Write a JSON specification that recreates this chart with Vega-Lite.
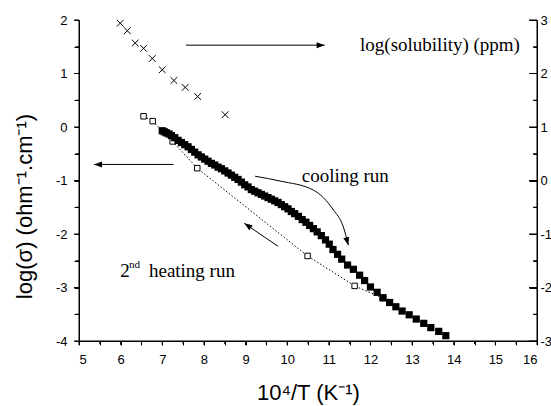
{
  "$schema": "https://vega.github.io/schema/vega-lite/v6.json",
  "width": 458,
  "height": 321,
  "autosize": {"type": "none"},
  "padding": {"left": 79, "top": 20, "right": 14, "bottom": 65},
  "background": "white",
  "config": {
    "view": {"stroke": null},
    "axis": {
      "grid": false,
      "domainColor": "black",
      "tickColor": "black",
      "labelColor": "black",
      "titleColor": "black",
      "labelFont": "Liberation Sans",
      "titleFont": "Liberation Sans",
      "labelFontSize": 13,
      "titleFontSize": 22,
      "titleFontWeight": "normal",
      "domainWidth": 1,
      "tickWidth": 1
    }
  },
  "datasets": {
    "cool": [
      {"x": 7.00, "y": -0.07}, {"x": 7.05, "y": -0.09}, {"x": 7.10, "y": -0.11}, {"x": 7.16, "y": -0.13},
      {"x": 7.22, "y": -0.16}, {"x": 7.30, "y": -0.20}, {"x": 7.38, "y": -0.25}, {"x": 7.46, "y": -0.29},
      {"x": 7.54, "y": -0.33}, {"x": 7.62, "y": -0.37}, {"x": 7.70, "y": -0.42}, {"x": 7.78, "y": -0.47},
      {"x": 7.86, "y": -0.52}, {"x": 7.94, "y": -0.56}, {"x": 8.02, "y": -0.60}, {"x": 8.10, "y": -0.64},
      {"x": 8.18, "y": -0.68}, {"x": 8.26, "y": -0.71}, {"x": 8.34, "y": -0.75}, {"x": 8.42, "y": -0.78},
      {"x": 8.50, "y": -0.82}, {"x": 8.58, "y": -0.86}, {"x": 8.66, "y": -0.90}, {"x": 8.74, "y": -0.94},
      {"x": 8.82, "y": -0.98}, {"x": 8.90, "y": -1.03}, {"x": 8.98, "y": -1.08}, {"x": 9.06, "y": -1.12},
      {"x": 9.14, "y": -1.17}, {"x": 9.22, "y": -1.20}, {"x": 9.30, "y": -1.23}, {"x": 9.38, "y": -1.26},
      {"x": 9.46, "y": -1.29}, {"x": 9.54, "y": -1.32}, {"x": 9.62, "y": -1.35}, {"x": 9.70, "y": -1.38},
      {"x": 9.78, "y": -1.41}, {"x": 9.86, "y": -1.45}, {"x": 9.94, "y": -1.49}, {"x": 10.02, "y": -1.53},
      {"x": 10.10, "y": -1.58}, {"x": 10.18, "y": -1.62}, {"x": 10.27, "y": -1.67}, {"x": 10.36, "y": -1.73},
      {"x": 10.45, "y": -1.78}, {"x": 10.54, "y": -1.84}, {"x": 10.63, "y": -1.90}, {"x": 10.72, "y": -1.96},
      {"x": 10.82, "y": -2.03}, {"x": 10.92, "y": -2.11}, {"x": 11.01, "y": -2.19}, {"x": 11.10, "y": -2.29},
      {"x": 11.21, "y": -2.38}, {"x": 11.31, "y": -2.47}, {"x": 11.45, "y": -2.58}, {"x": 11.59, "y": -2.66},
      {"x": 11.74, "y": -2.77}, {"x": 11.86, "y": -2.87}, {"x": 12.00, "y": -2.99}, {"x": 12.16, "y": -3.09},
      {"x": 12.30, "y": -3.19}, {"x": 12.46, "y": -3.28}, {"x": 12.61, "y": -3.36}, {"x": 12.76, "y": -3.44},
      {"x": 12.93, "y": -3.51}, {"x": 13.10, "y": -3.59}, {"x": 13.28, "y": -3.67}, {"x": 13.45, "y": -3.75},
      {"x": 13.64, "y": -3.82}, {"x": 13.81, "y": -3.90}
    ],
    "heat": [
      {"x": 6.55, "y": 0.20}, {"x": 6.77, "y": 0.11}, {"x": 7.25, "y": -0.27}, {"x": 7.84, "y": -0.77},
      {"x": 10.49, "y": -2.41}, {"x": 11.62, "y": -2.97}, {"x": 12.30, "y": -3.20}
    ],
    "sol": [
      {"x": 5.99, "y": 2.94}, {"x": 6.16, "y": 2.80}, {"x": 6.35, "y": 2.57}, {"x": 6.55, "y": 2.47},
      {"x": 6.76, "y": 2.28}, {"x": 7.00, "y": 2.07}, {"x": 7.28, "y": 1.87}, {"x": 7.55, "y": 1.74},
      {"x": 7.85, "y": 1.57}, {"x": 8.51, "y": 1.23}
    ],
    "arrows": [
      {"id": "sol", "x": 7.57, "y": 1.53, "x2": 10.9, "y2": 1.53},
      {"id": "cond", "x": 7.27, "y": -0.70, "x2": 5.36, "y2": -0.70},
      {"id": "heat", "x": 9.78, "y": -2.23, "x2": 8.97, "y2": -1.80}
    ],
    "frame": [
      {"x": 5, "y": -4, "x2": 5, "y2": 2},
      {"x": 5, "y": -4, "x2": 16, "y2": -4},
      {"x": 16, "y": -4, "x2": 16, "y2": 2}
    ],
    "xmajor": [
      {"x": 5}, {"x": 6}, {"x": 7}, {"x": 8}, {"x": 9}, {"x": 10}, {"x": 11}, {"x": 12},
      {"x": 13}, {"x": 14}, {"x": 15}, {"x": 16}
    ],
    "xminor": [
      {"x": 5.5}, {"x": 6.5}, {"x": 7.5}, {"x": 8.5}, {"x": 9.5}, {"x": 10.5},
      {"x": 11.5}, {"x": 12.5}, {"x": 13.5}, {"x": 14.5}, {"x": 15.5}
    ],
    "ymajor": [
      {"y": -4}, {"y": -3}, {"y": -2}, {"y": -1}, {"y": 0}, {"y": 1}, {"y": 2}
    ],
    "yminor": [
      {"y": -3.5}, {"y": -2.5}, {"y": -1.5}, {"y": -0.5}, {"y": 0.5}, {"y": 1.5}
    ],
    "tips": [
      {"id": "sol", "x": 10.9, "y": 1.53},
      {"id": "cond", "x": 5.36, "y": -0.70},
      {"id": "heat", "x": 8.97, "y": -1.80},
      {"id": "curve", "x": 11.47, "y": -2.21}
    ],
    "curve": [
      {"x": 9.23, "y": -0.92}, {"x": 9.83, "y": -1.01}, {"x": 10.63, "y": -1.18},
      {"x": 11.11, "y": -1.55}, {"x": 11.35, "y": -1.87}, {"x": 11.47, "y": -2.21}
    ],
    "labels": [
      {"id": "sol", "text": "log(solubility) (ppm)", "x": 11.75, "y": 1.42},
      {"id": "cool", "text": "cooling run", "x": 10.35, "y": -1.03},
      {"id": "two", "text": "2", "x": 5.99, "y": -2.80},
      {"id": "heat", "text": "heating run", "x": 6.68, "y": -2.80},
      {"id": "sup", "text": "nd", "x": 6.20, "y": -2.64}
    ]
  },
  "layer": [
    {
      "layer": [
        {
          "data": {"name": "heat"},
          "mark": {"type": "line", "color": "black", "strokeWidth": 1, "strokeDash": [1.5, 2]},
          "encoding": {
            "x": {
              "field": "x", "type": "quantitative",
              "scale": {"domain": [5, 16], "nice": false, "zero": false},
              "axis": {
                "values": [5, 5.5, 6, 6.5, 7, 7.5, 8, 8.5, 9, 9.5, 10, 10.5, 11, 11.5, 12, 12.5, 13, 13.5, 14, 14.5, 15, 15.5, 16],
                "labelExpr": "datum.value % 1 === 0 ? toString(datum.value) : ''",
                "tickSize": 4,
                "labelPadding": 8,
                "title": "10⁴/T (K⁻¹)",
                "titlePadding": 16
              }
            },
            "y": {
              "field": "y", "type": "quantitative",
              "scale": {"domain": [-4, 2], "nice": false, "zero": false},
              "axis": {
                "values": [-4, -3.5, -3, -2.5, -2, -1.5, -1, -0.5, 0, 0.5, 1, 1.5, 2],
                "labelExpr": "datum.value % 1 === 0 ? toString(datum.value) : ''",
                "tickSize": 5,
                "labelPadding": 7,
                "title": "log(σ) (ohm⁻¹.cm⁻¹)",
                "titleX": -48,
                "titleY": 186,
                "titleAlign": "center",
                "titleBaseline": "alphabetic"
              }
            }
          }
        },
        {
          "data": {"name": "frame"},
          "mark": {"type": "rule", "color": "black", "strokeWidth": 1},
          "encoding": {
            "x": {"field": "x", "type": "quantitative", "axis": null},
            "y": {"field": "y", "type": "quantitative", "axis": null},
            "x2": {"field": "x2"},
            "y2": {"field": "y2"}
          }
        },
        {
          "data": {"name": "xmajor"},
          "mark": {"type": "point", "shape": "M0,0L0,1", "filled": false, "stroke": "black", "strokeWidth": 1, "size": 64, "opacity": 1},
          "encoding": {
            "x": {"field": "x", "type": "quantitative", "axis": null},
            "y": {"datum": -4, "type": "quantitative", "axis": null}
          }
        },
        {
          "data": {"name": "xminor"},
          "mark": {"type": "point", "shape": "M0,0L0,1", "filled": false, "stroke": "black", "strokeWidth": 1, "size": 36, "opacity": 1},
          "encoding": {
            "x": {"field": "x", "type": "quantitative", "axis": null},
            "y": {"datum": -4, "type": "quantitative", "axis": null}
          }
        },
        {
          "data": {"name": "ymajor"},
          "mark": {"type": "point", "shape": "M0,0L-1,0", "filled": false, "stroke": "black", "strokeWidth": 1, "size": 100, "opacity": 1},
          "encoding": {
            "x": {"datum": 5, "type": "quantitative", "axis": null},
            "y": {"field": "y", "type": "quantitative", "axis": null}
          }
        },
        {
          "data": {"name": "yminor"},
          "mark": {"type": "point", "shape": "M0,0L-1,0", "filled": false, "stroke": "black", "strokeWidth": 1, "size": 49, "opacity": 1},
          "encoding": {
            "x": {"datum": 5, "type": "quantitative", "axis": null},
            "y": {"field": "y", "type": "quantitative", "axis": null}
          }
        },
        {
          "data": {"name": "ymajor"},
          "mark": {"type": "point", "shape": "M0,0L-1,0", "filled": false, "stroke": "black", "strokeWidth": 1, "size": 256, "opacity": 1},
          "encoding": {
            "x": {"datum": 16, "type": "quantitative", "axis": null},
            "y": {"field": "y", "type": "quantitative", "axis": null}
          }
        },
        {
          "data": {"name": "yminor"},
          "mark": {"type": "point", "shape": "M0,0L-1,0", "filled": false, "stroke": "black", "strokeWidth": 1, "size": 64, "opacity": 1},
          "encoding": {
            "x": {"datum": 16, "type": "quantitative", "axis": null},
            "y": {"field": "y", "type": "quantitative", "axis": null}
          }
        },
        {
          "data": {"name": "heat"},
          "mark": {"type": "point", "shape": "square", "filled": true, "fill": "white", "stroke": "black", "strokeWidth": 1, "size": 30, "opacity": 1},
          "encoding": {
            "x": {"field": "x", "type": "quantitative", "axis": null},
            "y": {"field": "y", "type": "quantitative", "axis": null}
          }
        },
        {
          "data": {"name": "cool"},
          "mark": {"type": "point", "shape": "square", "filled": true, "color": "black", "size": 52, "opacity": 1},
          "encoding": {
            "x": {"field": "x", "type": "quantitative", "axis": null},
            "y": {"field": "y", "type": "quantitative", "axis": null}
          }
        },
        {
          "data": {"name": "arrows"},
          "mark": {"type": "rule", "color": "black", "strokeWidth": 1},
          "encoding": {
            "x": {"field": "x", "type": "quantitative", "axis": null},
            "y": {"field": "y", "type": "quantitative", "axis": null},
            "x2": {"field": "x2"},
            "y2": {"field": "y2"}
          }
        },
        {
          "data": {"name": "tips"},
          "transform": [{"filter": "datum.id === 'sol'"}],
          "mark": {"type": "point", "shape": "M0,0L0.6,1.6L-0.6,1.6Z", "filled": true, "color": "black", "strokeWidth": 0, "size": 100, "opacity": 1, "angle": 90},
          "encoding": {
            "x": {"field": "x", "type": "quantitative", "axis": null},
            "y": {"field": "y", "type": "quantitative", "axis": null}
          }
        },
        {
          "data": {"name": "tips"},
          "transform": [{"filter": "datum.id === 'cond'"}],
          "mark": {"type": "point", "shape": "M0,0L0.6,1.6L-0.6,1.6Z", "filled": true, "color": "black", "strokeWidth": 0, "size": 100, "opacity": 1, "angle": 270},
          "encoding": {
            "x": {"field": "x", "type": "quantitative", "axis": null},
            "y": {"field": "y", "type": "quantitative", "axis": null}
          }
        },
        {
          "data": {"name": "tips"},
          "transform": [{"filter": "datum.id === 'heat'"}],
          "mark": {"type": "point", "shape": "M0,0L0.6,1.6L-0.6,1.6Z", "filled": true, "color": "black", "strokeWidth": 0, "size": 100, "opacity": 1, "angle": 304},
          "encoding": {
            "x": {"field": "x", "type": "quantitative", "axis": null},
            "y": {"field": "y", "type": "quantitative", "axis": null}
          }
        },
        {
          "data": {"name": "curve"},
          "mark": {"type": "line", "color": "black", "strokeWidth": 1, "interpolate": "monotone"},
          "encoding": {
            "x": {"field": "x", "type": "quantitative", "axis": null},
            "y": {"field": "y", "type": "quantitative", "axis": null}
          }
        },
        {
          "data": {"name": "tips"},
          "transform": [{"filter": "datum.id === 'curve'"}],
          "mark": {"type": "point", "shape": "M0,0L0.6,1.6L-0.6,1.6Z", "filled": true, "color": "black", "strokeWidth": 0, "size": 100, "opacity": 1, "angle": 164},
          "encoding": {
            "x": {"field": "x", "type": "quantitative", "axis": null},
            "y": {"field": "y", "type": "quantitative", "axis": null}
          }
        },
        {
          "data": {"name": "labels"},
          "transform": [{"filter": "datum.id !== 'sup'"}],
          "mark": {"type": "text", "font": "Liberation Serif", "fontSize": 19, "align": "left", "baseline": "alphabetic", "color": "black"},
          "encoding": {
            "x": {"field": "x", "type": "quantitative", "axis": null},
            "y": {"field": "y", "type": "quantitative", "axis": null},
            "text": {"field": "text"}
          }
        },
        {
          "data": {"name": "labels"},
          "transform": [{"filter": "datum.id === 'sup'"}],
          "mark": {"type": "text", "font": "Liberation Serif", "fontSize": 11, "align": "left", "baseline": "alphabetic", "color": "black"},
          "encoding": {
            "x": {"field": "x", "type": "quantitative", "axis": null},
            "y": {"field": "y", "type": "quantitative", "axis": null},
            "text": {"field": "text"}
          }
        }
      ],
      "resolve": {"axis": {"x": "independent", "y": "independent"}}
    },
    {
      "data": {"name": "sol"},
      "mark": {"type": "point", "shape": "M-1,-1L1,1M1,-1L-1,1", "filled": false, "stroke": "black", "strokeWidth": 1, "size": 45, "opacity": 1},
      "encoding": {
        "x": {"field": "x", "type": "quantitative", "scale": {"domain": [5, 16], "nice": false, "zero": false}, "axis": null},
        "y": {
          "field": "y", "type": "quantitative",
          "scale": {"domain": [-3, 3], "nice": false, "zero": false},
          "axis": {
            "orient": "right",
            "values": [-3, -2.5, -2, -1.5, -1, -0.5, 0, 0.5, 1, 1.5, 2, 2.5, 3],
            "labelExpr": "datum.value % 1 === 0 ? toString(datum.value) : ''",
            "tickSize": {"condition": {"test": "datum.value % 1 === 0", "value": -8}, "value": -4},
            "labelPadding": 11,
            "title": null
          }
        }
      }
    }
  ],
  "resolve": {"scale": {"y": "independent"}, "axis": {"x": "independent", "y": "independent"}}
}
